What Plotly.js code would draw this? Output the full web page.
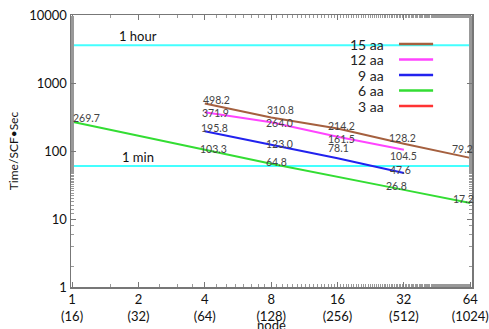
<!DOCTYPE html>
<html><head><meta charset="utf-8">
<script src="https://cdn.plot.ly/plotly-3.0.1.min.js"></script>
<style>body{margin:0;padding:0;background:#fff}#chart{width:489px;height:329px}</style>
</head><body><div id="chart"></div>
<script>
// Data
const seriesNames = ["15 aa", "12 aa", "9 aa", "6 aa", "3 aa"];
const seriesColors = ["#a5603f", "#ff44ff", "#2222ee", "#33dd33", "#ff3333"];
const x15 = [4, 8, 16, 32, 64];
const y15 = [498.2, 310.8, 214.2, 128.2, 79.2];
const x12 = [4, 8, 16, 32];
const y12 = [371.9, 264.0, 161.5, 104.5];
const x9 = [4, 8, 16, 32];
const y9 = [195.8, 123.0, 78.1, 47.6];
const x6 = [1, 4, 8, 32, 64];
const y6 = [269.7, 103.3, 64.8, 26.8, 17.2];
const x3 = [];
const y3 = [];
const refNames = ["1 hour", "1 min"];
const refValues = [3600, 60];
const tickVals = [1, 2, 4, 8, 16, 32, 64];
const tickText = ["1<br>(16)", "2<br>(32)", "4<br>(64)", "8<br>(128)", "16<br>(256)", "32<br>(512)", "64<br>(1024)"];

const xs = [x15, x12, x9, x6, x3];
const ys = [y15, y12, y9, y6, y3];

// label offsets (pixels) per series and point index — styling only
const labelOffsets = [
  [[12, 4], [9, 8], [4, 3], [-1, 6], [-8, 9]],
  [[11, -1], [8, -1], [4, -2], [0, -6]],
  [[10, 3], [8, 1], [1, 10], [-3, 3]],
  [[14, 4], [9, 1], [5, 2], [-7, 4], [-7, 4]],
  []
];
const labelFont = {family: "Lato, sans-serif", size: 10.5, color: "#444"};

const traces = [];
refValues.forEach((v) => {
  traces.push({x: [1, 64], y: [v, v], mode: "lines", line: {color: "#44ffff", width: 2}, showlegend: false, hoverinfo: "skip"});
});
seriesNames.forEach((n, i) => {
  traces.push({
    x: xs[i], y: ys[i], mode: "lines", name: n,
    line: {color: seriesColors[i], width: 2},
    showlegend: false
  });
});

const annotations = [];
const shapes = [];
seriesNames.forEach((n, i) => {
  xs[i].forEach((x, j) => {
    const off = labelOffsets[i][j] || [0, 4];
    annotations.push({x: Math.log10(x), y: Math.log10(ys[i][j]), xref: "x", yref: "y",
      text: ys[i][j].toFixed(1), showarrow: false, xanchor: "center", yanchor: "middle",
      xshift: off[0], yshift: off[1], font: labelFont});
  });
});
refNames.forEach((t, i) => {
  annotations.push({x: Math.log10(2), y: Math.log10(refValues[i]), xref: "x", yref: "y", text: t, showarrow: false,
    yanchor: "bottom", xanchor: "center", yshift: -1, font: {family: "Lato, sans-serif", size: 13, color: "#111"}});
});
const legTop = 0.893, legStep = 0.057;
seriesNames.forEach((n, i) => {
  const yy = legTop - i * legStep;
  annotations.push({x: 0.785, y: yy, xref: "paper", yref: "paper", text: n, showarrow: false,
    xanchor: "right", yanchor: "middle", font: {family: "Lato, sans-serif", size: 14, color: "#222"}});
  shapes.push({type: "line", xref: "paper", yref: "paper", x0: 0.818, x1: 0.903, y0: yy, y1: yy,
    line: {color: seriesColors[i], width: 2.5}});
});
// x-axis title placed below the two-line tick labels
annotations.push({x: 0.5, y: -0.14, xref: "paper", yref: "paper", text: "node", showarrow: false,
  xanchor: "center", yanchor: "middle", font: {family: "Lato, sans-serif", size: 13, color: "#111"}});

const layout = {
  width: 489, height: 329,
  margin: {l: 71, r: 17, t: 15, b: 42},
  paper_bgcolor: "#fff", plot_bgcolor: "#fff",
  font: {family: "Lato, sans-serif", size: 13, color: "#111"},
  showlegend: false,
  xaxis: {
    type: "log", range: [-0.005, Math.log10(64) + 0.008],
    tickvals: tickVals, ticktext: tickText, ticks: "inside", ticklen: 5,
    tickcolor: "#777", showline: true, linecolor: "#777", linewidth: 1.5, mirror: "ticks",
    showgrid: false, zeroline: false, automargin: false,
    tickfont: {size: 13, color: "#111"},
    minor: {ticks: "inside", ticklen: 3, tickcolor: "#999", showgrid: false}
  },
  yaxis: {
    type: "log", range: [0, 4],
    tickvals: [1, 10, 100, 1000, 10000], ticktext: ["1", "10", "100", "1000", "10000"],
    ticks: "inside", ticklen: 5, tickcolor: "#777",
    showline: true, linecolor: "#777", linewidth: 1.5, mirror: "ticks",
    showgrid: false, zeroline: false, automargin: false,
    tickfont: {size: 13, color: "#111"},
    minor: {ticks: "inside", ticklen: 3, tickcolor: "#999", showgrid: false},
    title: {text: "Time/SCF•Sec", standoff: 8, font: {size: 12, color: "#111"}}
  },
  annotations: annotations,
  shapes: shapes
};

Plotly.newPlot("chart", traces, layout, {displayModeBar: false, staticPlot: true});
</script></body></html>
